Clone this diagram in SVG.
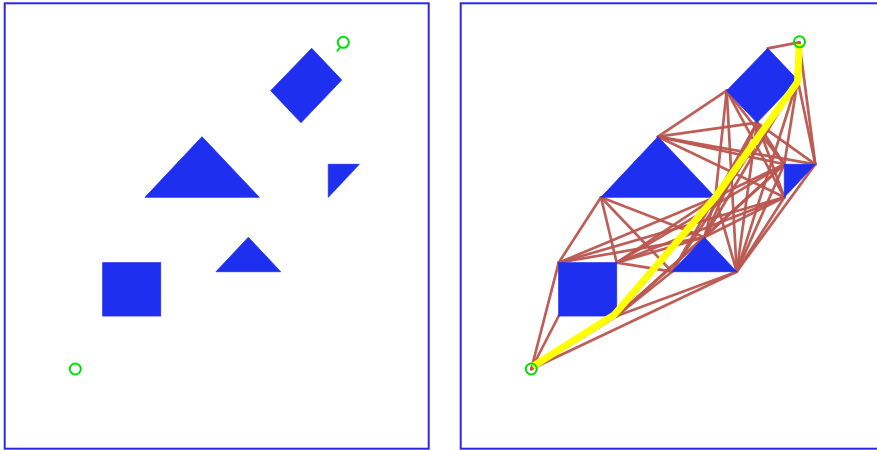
<svg xmlns="http://www.w3.org/2000/svg" width="877" height="450" viewBox="0 0 877 450">
<style>
.frame{fill:#ffffff;stroke:#2a2ae6;stroke-width:2}
.obs{fill:#1f2ff0;stroke:#1f2ff0;stroke-width:0.8;stroke-linejoin:miter}
.pt{fill:none;stroke:#00e000;stroke-width:2}
.edge{stroke:#b9564f;stroke-width:2.7;stroke-linecap:round;fill:none;stroke-opacity:0.95}
.path{stroke:#ffff00;stroke-width:7;fill:none;stroke-linejoin:round;stroke-linecap:butt}
</style>
<rect width="877" height="450" fill="#ffffff"/>
<g id="panel-left">
<rect class="frame" x="4.7" y="3.3" width="424" height="445.4"/>
<g id="l-diamond"><polygon class="obs" points="311.7,48.3 341.7,80 301,122.7 270.7,90.7"/></g>
<g id="l-big-triangle"><polygon class="obs" points="202,136.7 145,197.3 259.3,197.3"/></g>
<g id="l-right-triangle"><polygon class="obs" points="328.3,164.3 359.3,164.3 328.3,197.3"/></g>
<g id="l-small-triangle"><polygon class="obs" points="248.3,237.3 216,271.7 280.7,271.7"/></g>
<g id="l-square"><rect class="obs" x="102.7" y="262.7" width="58" height="53.3"/></g>
<g id="l-goal"><circle class="pt" cx="343.3" cy="42.3" r="5.5"/><line class="pt" x1="340" y1="47.5" x2="337" y2="51.5"/></g>
<g id="l-start"><circle class="pt" cx="75.3" cy="369" r="5.5"/></g>
</g>
<g id="panel-right">
<rect class="frame" x="460.7" y="3.3" width="424" height="445.4"/>
<g id="connectors">
<line class="edge" x1="531.3" y1="369" x2="558.7" y2="262.7"/>
<line class="edge" x1="531.3" y1="369" x2="616.7" y2="316"/>
<line class="edge" x1="531.3" y1="369" x2="558.7" y2="316"/>
<line class="edge" x1="531.3" y1="369" x2="736.7" y2="271.7"/>
<line class="edge" x1="558.7" y1="262.7" x2="601" y2="197.3"/>
<line class="edge" x1="558.7" y1="262.7" x2="715.3" y2="197.3"/>
<line class="edge" x1="558.7" y1="262.7" x2="704.3" y2="237.3"/>
<line class="edge" x1="558.7" y1="262.7" x2="784.3" y2="197.3"/>
<line class="edge" x1="616.7" y1="262.7" x2="601" y2="197.3"/>
<line class="edge" x1="616.7" y1="262.7" x2="715.3" y2="197.3"/>
<line class="edge" x1="616.7" y1="262.7" x2="704.3" y2="237.3"/>
<line class="edge" x1="616.7" y1="262.7" x2="672" y2="271.7"/>
<line class="edge" x1="616.7" y1="262.7" x2="784.3" y2="164.3"/>
<line class="edge" x1="616.7" y1="262.7" x2="784.3" y2="197.3"/>
<line class="edge" x1="616.7" y1="316" x2="715.3" y2="197.3"/>
<line class="edge" x1="616.7" y1="316" x2="704.3" y2="237.3"/>
<line class="edge" x1="616.7" y1="316" x2="672" y2="271.7"/>
<line class="edge" x1="616.7" y1="316" x2="736.7" y2="271.7"/>
<line class="edge" x1="616.7" y1="316" x2="784.3" y2="164.3"/>
<line class="edge" x1="601" y1="197.3" x2="704.3" y2="237.3"/>
<line class="edge" x1="601" y1="197.3" x2="672" y2="271.7"/>
<line class="edge" x1="658" y1="136.7" x2="726.7" y2="90.7"/>
<line class="edge" x1="658" y1="136.7" x2="757" y2="122.7"/>
<line class="edge" x1="658" y1="136.7" x2="784.3" y2="164.3"/>
<line class="edge" x1="658" y1="136.7" x2="815.3" y2="164.3"/>
<line class="edge" x1="658" y1="136.7" x2="784.3" y2="197.3"/>
<line class="edge" x1="715.3" y1="197.3" x2="704.3" y2="237.3"/>
<line class="edge" x1="715.3" y1="197.3" x2="672" y2="271.7"/>
<line class="edge" x1="715.3" y1="197.3" x2="736.7" y2="271.7"/>
<line class="edge" x1="715.3" y1="197.3" x2="784.3" y2="164.3"/>
<line class="edge" x1="715.3" y1="197.3" x2="757" y2="122.7"/>
<line class="edge" x1="715.3" y1="197.3" x2="726.7" y2="90.7"/>
<line class="edge" x1="715.3" y1="197.3" x2="797.7" y2="80"/>
<line class="edge" x1="704.3" y1="237.3" x2="784.3" y2="164.3"/>
<line class="edge" x1="704.3" y1="237.3" x2="784.3" y2="197.3"/>
<line class="edge" x1="704.3" y1="237.3" x2="757" y2="122.7"/>
<line class="edge" x1="704.3" y1="237.3" x2="797.7" y2="80"/>
<line class="edge" x1="672" y1="271.7" x2="797.7" y2="80"/>
<line class="edge" x1="736.7" y1="271.7" x2="784.3" y2="164.3"/>
<line class="edge" x1="736.7" y1="271.7" x2="784.3" y2="197.3"/>
<line class="edge" x1="736.7" y1="271.7" x2="815.3" y2="164.3"/>
<line class="edge" x1="736.7" y1="271.7" x2="757" y2="122.7"/>
<line class="edge" x1="736.7" y1="271.7" x2="726.7" y2="90.7"/>
<line class="edge" x1="736.7" y1="271.7" x2="797.7" y2="80"/>
<line class="edge" x1="784.3" y1="164.3" x2="757" y2="122.7"/>
<line class="edge" x1="784.3" y1="164.3" x2="726.7" y2="90.7"/>
<line class="edge" x1="784.3" y1="164.3" x2="797.7" y2="80"/>
<line class="edge" x1="815.3" y1="164.3" x2="799.3" y2="42.3"/>
<line class="edge" x1="815.3" y1="164.3" x2="797.7" y2="80"/>
<line class="edge" x1="815.3" y1="164.3" x2="757" y2="122.7"/>
<line class="edge" x1="784.3" y1="197.3" x2="757" y2="122.7"/>
<line class="edge" x1="784.3" y1="197.3" x2="726.7" y2="90.7"/>
<line class="edge" x1="767.7" y1="48.3" x2="799.3" y2="42.3"/>
<line class="edge" x1="797.7" y1="80" x2="799.3" y2="42.3"/>
</g>
<g id="r-diamond"><polygon class="obs" points="767.7,48.3 797.7,80 757,122.7 726.7,90.7"/></g>
<g id="r-big-triangle"><polygon class="obs" points="658,136.7 601,197.3 715.3,197.3"/></g>
<g id="r-right-triangle"><polygon class="obs" points="784.3,164.3 815.3,164.3 784.3,197.3"/></g>
<g id="r-small-triangle"><polygon class="obs" points="704.3,237.3 672,271.7 736.7,271.7"/></g>
<g id="r-square"><rect class="obs" x="558.7" y="262.7" width="58" height="53.3"/></g>
<g id="shortest-path"><polyline class="path" points="532.5,366.5 614,315 715,197.5 797.5,82 799.3,44"/></g>
<g id="r-goal"><circle class="pt" cx="799.5" cy="41.8" r="5.5"/></g>
<g id="r-start"><circle class="pt" cx="531.3" cy="369" r="5.5"/></g>
</g>
</svg>
